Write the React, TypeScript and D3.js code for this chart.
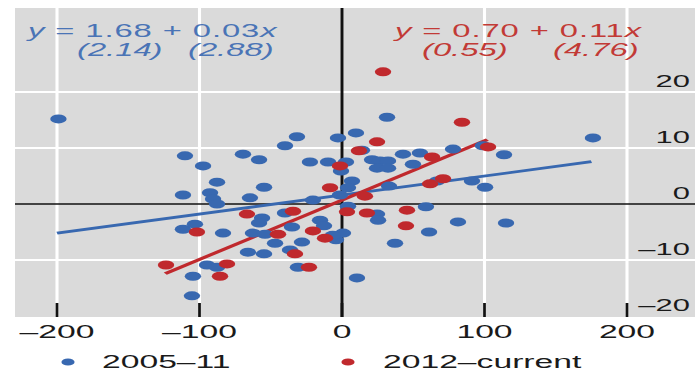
import React from 'react';
import * as d3 from 'd3';

// ---------- data ----------
const xTicks = [-200, -100, 0, 100, 200];
const yTicks = [20, 10, 0, -10, -20];
const seriesNames = ['2005–11', '2012–current'];

const blueX = [-199, -110.2, -97.5, -69.5, -58.2, -87.7, -111.6, -92.6, -90.5, -87.7, -54.7, -64.6,
  -111.6, -103.2, -83.5, -56.1, -58.2, -62.5, -54, -66, -54.7, -94.7, -87.7, -104.6, -105.3,
  -40, -35.1, -28.1, -47, -36.5, -30.9, -15.4, -12.6, -4.2, 0.7, -22.5, -9.8, -0.7, -20.4,
  -31.6, -40, -2.8, 9.8, 31.6, 14, 2.8, 21.1, 26.7, 32.3, 24.6, 32.3, 42.8, 54.7, 49.8, 77.9,
  98.9, 113.7, 176.1, 7, 4.2, -1.4, 4.2, 24.6, 25.3, 66.7, 91.2, 100.4, 33, 58.9, 61.1, 81.4,
  115.1, 37.2, 10.5, -6.5];
const blueY = [15.2, 8.6, 6.8, 8.9, 7.9, 3.9, 1.6, 2.0, 0.9, 0.0, 3.0, 1.1,
  -4.5, -3.6, -5.2, -2.5, -3.4, -5.2, -5.4, -8.6, -8.9, -10.9, -11.3, -12.9, -16.4,
  -1.6, -4.1, -6.8, -7.0, -8.2, -11.3, -2.9, -3.9, -6.4, -5.2, 7.5, 7.5, 5.9, 0.7,
  12.0, 10.4, 11.8, 12.7, 15.5, 9.6, 7.5, 7.9, 7.7, 7.7, 6.4, 6.4, 8.9, 9.1, 7.1, 9.8,
  10.4, 8.8, 11.8, 4.1, 2.9, 1.6, -0.4, -1.8, -2.9, 4.1, 4.1, 3.0, 3.2, -0.5, -5.0, -3.2,
  -3.4, -7.0, -13.2, -5.6];

const redX = [28.8, 84.2, 24.6, 11.9, -1.4, 63.2, 102.5, -8.4, 16.1, 70.9, 61.8, 3.5, 17.5,
  45.6, 44.9, -34.4, -66.7, -101.8, -44.9, -20.4, -11.9, -33, -123.5, -80.7, -85.6, -23.2];
const redY = [23.6, 14.6, 11.1, 9.5, 6.8, 8.4, 10.2, 2.9, 1.4, 4.5, 3.6, -1.4, -1.6,
  -1.1, -3.9, -1.3, -1.8, -5.0, -5.4, -4.8, -6.1, -8.9, -10.9, -10.7, -12.9, -11.3];

// fitted lines: [intercept, slope], x-extent
const blueFit = [1.6, 0.034];
const blueRange = [-200, 175];
const redFit = [0.7, 0.106];
const redRange = [-124, 102];

const blueEq = ['1.68', '0.03', '(2.14)', '(2.88)'];
const redEq = ['0.70', '0.11', '(0.55)', '(4.76)'];

// ---------- layout ----------
const W = 695;
const H = 371;
const SX = 1.82; // horizontal stretch of the whole drawing
const BLUE = '#3868b0';
const RED = '#c0292d';
const BLUE_T = '#4a74b6';
const RED_T = '#c23a36';
const BG = '#dadada';
const FONT = '"Liberation Sans", Arial, Helvetica, sans-serif';

export default function App() {
  const x = d3.scaleLinear().domain([-200, 200]).range([57 / SX, 627 / SX]);
  const y = d3.scaleLinear().domain([-20, 20]).range([316, 92]);
  const left = 15 / SX;
  const right = W / SX;
  const top = 8;
  const bottom = 317;

  const fitPath = (fit: number[], rng: number[]) =>
    d3.line<number>()
      .x((v) => x(v))
      .y((v) => y(fit[0] + fit[1] * v))(rng) as string;

  const eq = (vals: string[], x1: number, color: string) => (
    <g fill={color} fontFamily={FONT}>
      <text x={x1 / SX} y={37} fontSize={18} style={{ whiteSpace: 'pre' }} letterSpacing={0.5}>
        <tspan fontStyle="italic">y</tspan>
        {` = ${vals[0]} + ${vals[1]}`}
        <tspan fontStyle="italic">x</tspan>
      </text>
    </g>
  );

  return (
    <svg width={W} height={H} style={{ position: 'absolute', left: 0, top: 0, background: '#fff' }}>
      <g transform={`scale(${SX},1)`}>
        <rect x={left} y={top} width={right - left} height={bottom - top} fill={BG} />
        {/* grid */}
        {xTicks.filter((t) => t !== 0).map((t) => (
          <line key={'gx' + t} x1={x(t)} x2={x(t)} y1={top} y2={bottom} stroke="#fff" strokeWidth={1.7} />
        ))}
        {yTicks.filter((t) => t !== 0 && t !== -20).map((t) => (
          <line key={'gy' + t} x1={left} x2={right} y1={y(t)} y2={y(t)} stroke="#fff" strokeWidth={2} />
        ))}
        {/* zero lines */}
        <line x1={left} x2={right} y1={y(0)} y2={y(0)} stroke="#111" strokeWidth={1.6} />
        <line x1={x(0)} x2={x(0)} y1={top} y2={bottom} stroke="#111" strokeWidth={1.6} />
        {/* ticks */}
        {xTicks.map((t) => (
          <line key={'tk' + t} x1={x(t)} x2={x(t)} y1={bottom - 14} y2={bottom} stroke="#111" strokeWidth={1.5} />
        ))}
        {/* fit lines */}
        <path d={fitPath(blueFit, blueRange)} stroke={BLUE} strokeWidth={2.8} fill="none" />
        <path d={fitPath(redFit, redRange)} stroke={RED} strokeWidth={2.8} fill="none" />
        {/* points */}
        {blueX.map((v, i) => (
          <circle key={'b' + i} cx={x(v)} cy={y(blueY[i])} r={4.5} fill={BLUE} />
        ))}
        {redX.map((v, i) => (
          <circle key={'r' + i} cx={x(v)} cy={y(redY[i])} r={4.5} fill={RED} />
        ))}
        {/* y tick labels */}
        {yTicks.map((t) => (
          <text key={'yl' + t} x={690 / SX} y={y(t) - 5} textAnchor="end" fontSize={17}
            fontFamily={FONT} fill="#1a1a1a">
            {t < 0 ? '\u2013' + Math.abs(t) : String(t)}
          </text>
        ))}
        {/* x tick labels */}
        {xTicks.map((t) => (
          <text key={'xl' + t} x={x(t)} y={338} textAnchor="middle" fontSize={18.5}
            fontFamily={FONT} fill="#1a1a1a">
            {t < 0 ? '\u2013' + Math.abs(t) : String(t)}
          </text>
        ))}
        {/* equations */}
        {eq(blueEq, 28, BLUE_T)}
        {eq(redEq, 395, RED_T)}
        <g fontFamily={FONT} fontStyle="italic" fontSize={18}>
          <text x={77 / SX} y={56} fill={BLUE_T}>{blueEq[2]}</text>
          <text x={188 / SX} y={56} fill={BLUE_T}>{blueEq[3]}</text>
          <text x={422 / SX} y={56} fill={RED_T}>{redEq[2]}</text>
          <text x={553 / SX} y={56} fill={RED_T}>{redEq[3]}</text>
        </g>
        {/* legend */}
        <circle cx={68 / SX} cy={362} r={3.6} fill={BLUE} />
        <text x={102 / SX} y={368} fontSize={18.5} fontFamily={FONT} fill="#1a1a1a">{seriesNames[0]}</text>
        <circle cx={348 / SX} cy={362} r={3.6} fill={RED} />
        <text x={383 / SX} y={368} fontSize={18.5} fontFamily={FONT} fill="#1a1a1a">{seriesNames[1]}</text>
      </g>
    </svg>
  );
}
